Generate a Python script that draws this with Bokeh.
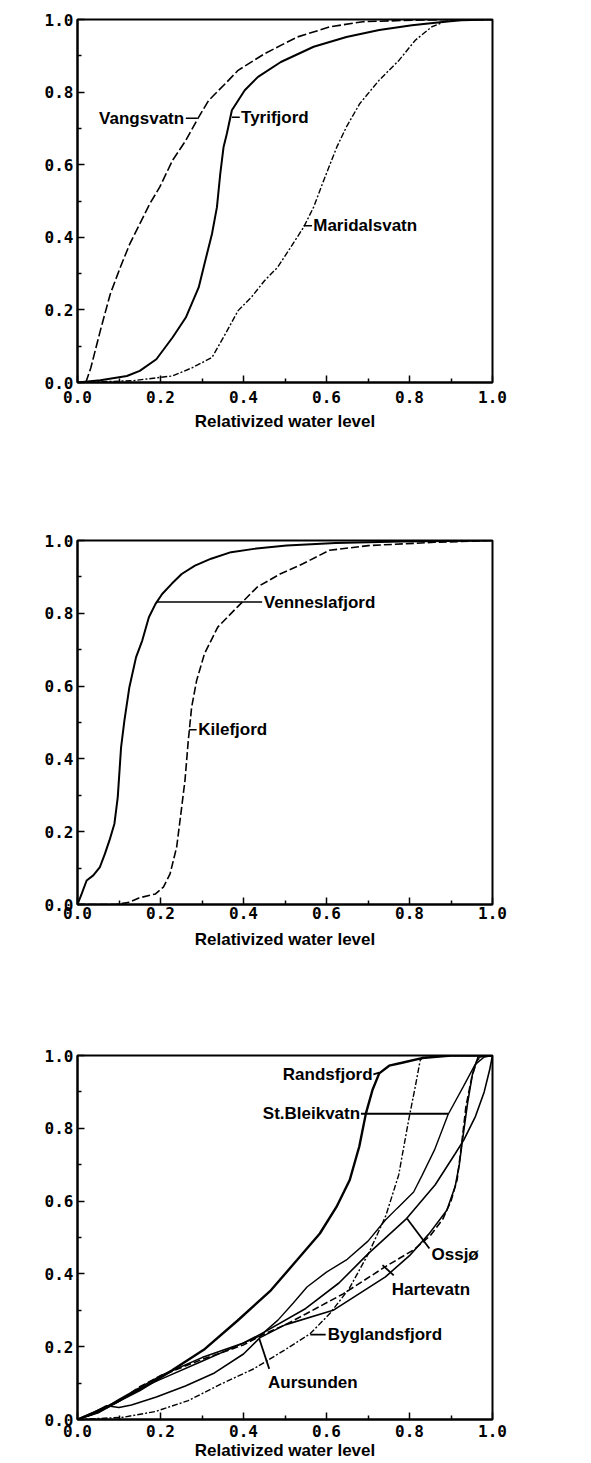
import math
from bokeh.plotting import figure
from bokeh.layouts import column
from bokeh.models import Range1d, FixedTicker, PrintfTickFormatter, Label
from bokeh.embed import file_html
from bokeh.resources import INLINE

# ---------------- data: panel 1 ----------------
vangsvatn_x = [0.02, 0.032, 0.055, 0.079, 0.103, 0.126, 0.15, 0.174, 0.198, 0.229, 0.261, 0.292, 0.316,
               0.356, 0.387, 0.451, 0.53, 0.609, 0.688, 0.806, 0.925, 1.0]
vangsvatn_y = [0.0, 0.04, 0.143, 0.244, 0.317, 0.382, 0.437, 0.492, 0.538, 0.612, 0.667, 0.731, 0.777,
               0.823, 0.86, 0.906, 0.952, 0.98, 0.994, 0.998, 1.0, 1.0]
tyrifjord_x = [0.0, 0.055, 0.119, 0.15, 0.19, 0.229, 0.261, 0.292, 0.308, 0.324, 0.336, 0.344, 0.352, 0.36,
               0.372, 0.403, 0.435, 0.49, 0.569, 0.648, 0.727, 0.806, 0.885, 0.925, 1.0]
tyrifjord_y = [0.0, 0.006, 0.018, 0.032, 0.064, 0.124, 0.179, 0.262, 0.336, 0.409, 0.483, 0.575, 0.649, 0.686,
               0.75, 0.805, 0.842, 0.883, 0.925, 0.952, 0.971, 0.984, 0.994, 0.998, 1.0]
maridalsvatn_x = [0.0, 0.134, 0.198, 0.229, 0.277, 0.324, 0.356, 0.387, 0.419, 0.451, 0.482, 0.514, 0.545,
                  0.569, 0.593, 0.625, 0.648, 0.68, 0.727, 0.775, 0.814, 0.854, 0.885, 0.925, 1.0]
maridalsvatn_y = [0.0, 0.005, 0.014, 0.018, 0.041, 0.069, 0.133, 0.198, 0.235, 0.281, 0.317, 0.373, 0.428,
                  0.483, 0.556, 0.649, 0.704, 0.768, 0.833, 0.888, 0.943, 0.98, 0.994, 1.0, 1.0]

# ---------------- data: panel 2 ----------------
venneslafjord_x = [0.0, 0.01, 0.022, 0.038, 0.054, 0.066, 0.077, 0.089, 0.097, 0.105, 0.113, 0.125, 0.141,
                   0.156, 0.172, 0.188, 0.204, 0.227, 0.251, 0.283, 0.322, 0.37, 0.425, 0.504, 0.622, 0.78, 1.0]
venneslafjord_y = [0.0, 0.029, 0.066, 0.08, 0.103, 0.139, 0.176, 0.222, 0.295, 0.432, 0.505, 0.597, 0.679,
                   0.725, 0.789, 0.826, 0.853, 0.881, 0.908, 0.931, 0.95, 0.968, 0.977, 0.986, 0.993, 0.997, 1.0]
kilefjord_x = [0.0, 0.093, 0.125, 0.148, 0.188, 0.207, 0.223, 0.239, 0.251, 0.259, 0.267, 0.275, 0.287,
               0.306, 0.338, 0.385, 0.433, 0.488, 0.543, 0.607, 0.701, 0.859, 1.0]
kilefjord_y = [0.0, 0.0, 0.006, 0.018, 0.029, 0.048, 0.084, 0.158, 0.267, 0.341, 0.451, 0.542, 0.615,
               0.689, 0.762, 0.817, 0.872, 0.908, 0.936, 0.973, 0.986, 0.995, 1.0]

# ---------------- data: panel 3 ----------------
randsfjord_x = [0.0, 0.07, 0.149, 0.228, 0.307, 0.386, 0.466, 0.529, 0.584, 0.624, 0.656, 0.679, 0.695,
                0.711, 0.727, 0.751, 0.782, 0.83, 0.9, 1.0]
randsfjord_y = [0.0, 0.034, 0.08, 0.135, 0.194, 0.272, 0.355, 0.438, 0.511, 0.584, 0.658, 0.75, 0.841,
                0.906, 0.951, 0.972, 0.98, 0.993, 1.0, 1.0]
stbleikvatn_x = [0.0, 0.05, 0.1, 0.15, 0.2, 0.3, 0.38, 0.44, 0.483, 0.52, 0.553, 0.6, 0.65, 0.7, 0.742,
                 0.77, 0.81, 0.83, 0.86, 0.893, 0.93, 0.958, 0.98, 1.0]
stbleikvatn_y = [0.0, 0.018, 0.05, 0.085, 0.11, 0.16, 0.2, 0.23, 0.273, 0.32, 0.364, 0.405, 0.44, 0.49,
                 0.548, 0.58, 0.625, 0.67, 0.74, 0.838, 0.915, 0.975, 0.996, 1.0]
ossjo_x = [0.0, 0.05, 0.1, 0.2, 0.3, 0.4, 0.45, 0.55, 0.63, 0.7, 0.793, 0.862, 0.91, 0.931, 0.959,
           0.98, 0.993, 1.0]
ossjo_y = [0.0, 0.02, 0.055, 0.12, 0.17, 0.21, 0.24, 0.305, 0.375, 0.455, 0.552, 0.645, 0.73, 0.768, 0.833,
           0.9, 0.96, 1.0]
hartevatn_x = [0.0, 0.05, 0.1, 0.15, 0.2, 0.3, 0.4, 0.45, 0.5, 0.55, 0.64, 0.742, 0.81, 0.85, 0.88, 0.9,
               0.915, 0.926, 0.936, 0.95, 0.962, 0.975, 1.0]
hartevatn_y = [0.0, 0.02, 0.05, 0.09, 0.12, 0.165, 0.205, 0.235, 0.26, 0.29, 0.345, 0.42, 0.466, 0.505,
               0.55, 0.6, 0.66, 0.76, 0.86, 0.94, 0.985, 1.0, 1.0]
byglandsfjord_x = [0.0, 0.109, 0.188, 0.267, 0.347, 0.426, 0.505, 0.561, 0.608, 0.655, 0.703, 0.743,
                   0.774, 0.798, 0.814, 0.826, 0.838, 1.0]
byglandsfjord_y = [0.0, 0.006, 0.022, 0.052, 0.098, 0.14, 0.195, 0.236, 0.291, 0.36, 0.46, 0.56, 0.672,
                   0.823, 0.915, 0.988, 1.0, 1.0]
aursunden_x = [0.0, 0.04, 0.07, 0.1, 0.13, 0.19, 0.26, 0.33, 0.4, 0.44, 0.5, 0.616, 0.742, 0.8, 0.847,
               0.89, 0.91, 0.92, 0.928, 0.94, 0.952, 0.965, 1.0]
aursunden_y = [0.0, 0.02, 0.038, 0.033, 0.04, 0.062, 0.092, 0.128, 0.18, 0.225, 0.26, 0.3, 0.392, 0.45,
               0.51, 0.575, 0.64, 0.7, 0.77, 0.87, 0.95, 0.995, 1.0]

tick_values = [0.0, 0.2, 0.4, 0.6, 0.8, 1.0]
minor_tick_values = [0.1, 0.3, 0.5, 0.7, 0.9]
x_title = "Relativized water level"
y_title = "Cumulative probability"

SANS = "Liberation Sans"
MONO = "DejaVu Sans Mono"
LABEL_SIZE = "17px"


def make_panel(height, left, right, top, bottom, tick_standoff_x, title_standoff_x, ytitle_x, ytitle_y):
    p = figure(width=591, height=height, x_range=Range1d(0, 1), y_range=Range1d(0, 1),
               output_backend="svg", toolbar_location=None,
               min_border_left=left, min_border_right=right, min_border_top=top, min_border_bottom=bottom)
    p.xgrid.visible = False
    p.ygrid.visible = False
    p.outline_line_color = "black"
    p.outline_line_width = 2
    p.outline_line_alpha = 1.0
    p.background_fill_color = "white"
    p.border_fill_color = "white"
    for ax in (p.xaxis[0], p.yaxis[0]):
        ax.ticker = FixedTicker(ticks=tick_values, minor_ticks=minor_tick_values)
        ax.formatter = PrintfTickFormatter(format="%.1f")
        ax.axis_line_width = 2
        ax.major_tick_in = 7
        ax.major_tick_out = 0
        ax.minor_tick_in = 4
        ax.minor_tick_out = 0
        ax.major_tick_line_width = 1.5
        ax.minor_tick_line_width = 1.5
        ax.major_label_text_font = MONO
        ax.major_label_text_font_size = "16px"
        ax.major_label_text_font_style = "bold"
        ax.major_label_text_color = "black"
    p.xaxis.major_label_standoff = tick_standoff_x
    p.yaxis.major_label_standoff = 4
    p.xaxis.axis_label = x_title
    p.xaxis.axis_label_standoff = title_standoff_x
    p.xaxis.axis_label_text_font = SANS
    p.xaxis.axis_label_text_font_style = "bold"
    p.xaxis.axis_label_text_font_size = "17px"
    p.xaxis.axis_label_text_color = "black"
    p.add_layout(Label(x=ytitle_x, y=ytitle_y, text=y_title, angle=math.pi / 2,
                       text_align="center", text_baseline="middle", text_font=SANS,
                       text_font_style="bold", text_font_size="19.5px", text_color="black"))
    return p


def add_label(p, x, y, text, align="left"):
    p.add_layout(Label(x=x, y=y, text=text, text_align=align, text_baseline="middle",
                       text_font=SANS, text_font_style="bold", text_font_size=LABEL_SIZE,
                       text_color="black"))


# ---------------- panel 1 ----------------
p1 = make_panel(478, 77, 93, 19, 96, 8, 6, -0.131, 0.413)
p1.line(vangsvatn_x, vangsvatn_y, line_color="black", line_width=1.6, line_dash="9 3")
p1.line(tyrifjord_x, tyrifjord_y, line_color="black", line_width=2)
p1.line(maridalsvatn_x, maridalsvatn_y, line_color="black", line_width=1.4, line_dash="6 2 2 2")
p1.segment(x0=[0.261, 0.372, 0.545], y0=[0.728, 0.731, 0.432],
           x1=[0.289, 0.391, 0.565], y1=[0.728, 0.731, 0.432], line_color="black", line_width=1.5)
add_label(p1, 0.257, 0.728, "Vangsvatn", "right")
add_label(p1, 0.394, 0.731, "Tyrifjord")
add_label(p1, 0.568, 0.432, "Maridalsvatn")

# ---------------- panel 2 ----------------
p2 = make_panel(480, 71, 98, 62, 54, 2, 8, -0.117, 0.456)
p2.line(venneslafjord_x, venneslafjord_y, line_color="black", line_width=2)
p2.line(kilefjord_x, kilefjord_y, line_color="black", line_width=1.6, line_dash="8 3")
p2.segment(x0=[0.192, 0.269], y0=[0.831, 0.48], x1=[0.445, 0.287], y1=[0.831, 0.48],
           line_color="black", line_width=1.6)
add_label(p2, 0.449, 0.831, "Venneslafjord")
add_label(p2, 0.291, 0.48, "Kilefjord")

# ---------------- panel 3 ----------------
p3 = make_panel(505, 71, 99, 97, 44, 5, 1, -0.117, 0.466)
p3.line(randsfjord_x, randsfjord_y, line_color="black", line_width=2.4)
p3.line(stbleikvatn_x, stbleikvatn_y, line_color="black", line_width=1.4)
p3.line(ossjo_x, ossjo_y, line_color="black", line_width=1.6)
p3.line(hartevatn_x, hartevatn_y, line_color="black", line_width=1.6, line_dash="7 3")
p3.line(byglandsfjord_x, byglandsfjord_y, line_color="black", line_width=1.4, line_dash="6 2 2 2")
p3.line(aursunden_x, aursunden_y, line_color="black", line_width=1.6)
p3.segment(x0=[0.713, 0.683, 0.794, 0.735, 0.561, 0.438],
           y0=[0.948, 0.84, 0.552, 0.424, 0.233, 0.222],
           x1=[0.727, 0.893, 0.848, 0.762, 0.598, 0.462],
           y1=[0.953, 0.84, 0.47, 0.396, 0.233, 0.139],
           line_color="black", line_width=1.8)
add_label(p3, 0.711, 0.948, "Randsfjord", "right")
add_label(p3, 0.681, 0.84, "St.Bleikvatn", "right")
add_label(p3, 0.853, 0.452, "Ossjø")
add_label(p3, 0.757, 0.357, "Hartevatn")
add_label(p3, 0.603, 0.233, "Byglandsfjord")
add_label(p3, 0.459, 0.103, "Aursunden")

layout = column(p1, p2, p3)
open("out.html", "w").write(file_html(layout, INLINE))
